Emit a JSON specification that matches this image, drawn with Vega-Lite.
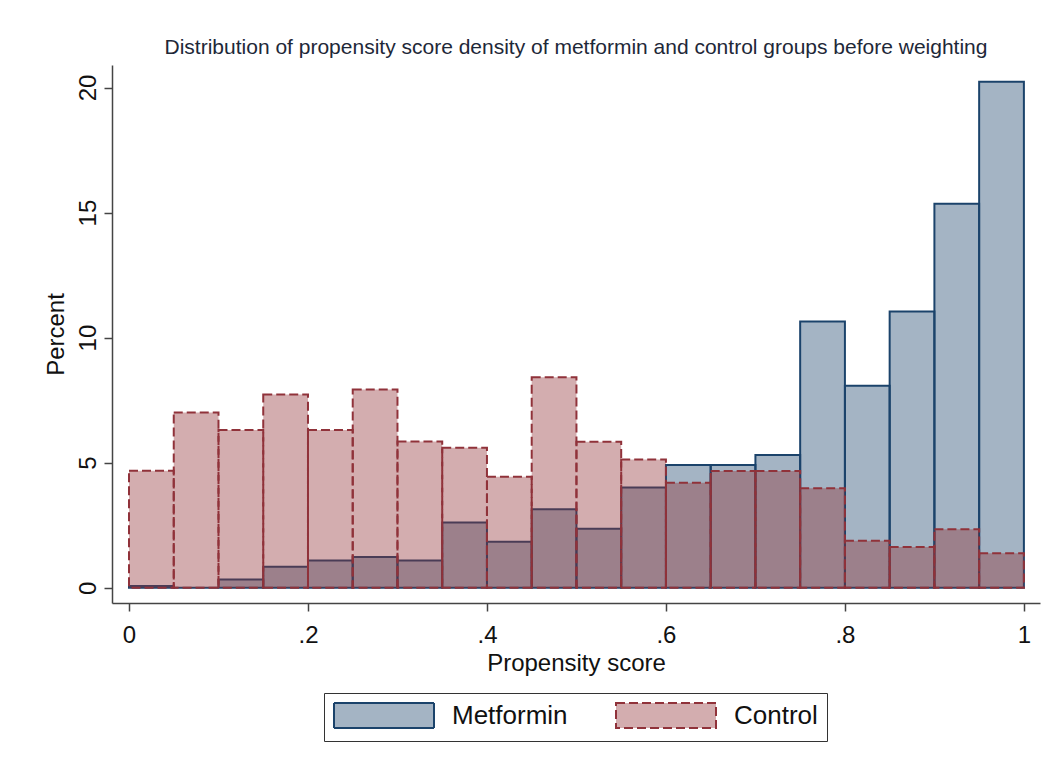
{
  "$schema": "https://vega.github.io/schema/vega-lite/v6.json",
  "width": 928,
  "height": 538,
  "autosize": {"type": "none"},
  "padding": {"left": 112, "top": 65, "right": 20, "bottom": 173},
  "background": "white",
  "config": {
    "view": {"stroke": null},
    "font": "Liberation Sans"
  },
  "title": {
    "text": "Distribution of propensity score density of metformin and control groups before weighting",
    "font": "Liberation Sans",
    "fontSize": 21,
    "fontWeight": "normal",
    "color": "#1e2838",
    "anchor": "middle",
    "offset": 7
  },
  "data": {
    "values": [
      {"start": 0.00, "end": 0.05, "group": "Metformin", "pct": 0.07},
      {"start": 0.05, "end": 0.10, "group": "Metformin", "pct": 0.0},
      {"start": 0.10, "end": 0.15, "group": "Metformin", "pct": 0.33},
      {"start": 0.15, "end": 0.20, "group": "Metformin", "pct": 0.84},
      {"start": 0.20, "end": 0.25, "group": "Metformin", "pct": 1.09},
      {"start": 0.25, "end": 0.30, "group": "Metformin", "pct": 1.23},
      {"start": 0.30, "end": 0.35, "group": "Metformin", "pct": 1.09},
      {"start": 0.35, "end": 0.40, "group": "Metformin", "pct": 2.61},
      {"start": 0.40, "end": 0.45, "group": "Metformin", "pct": 1.84},
      {"start": 0.45, "end": 0.50, "group": "Metformin", "pct": 3.14},
      {"start": 0.50, "end": 0.55, "group": "Metformin", "pct": 2.36},
      {"start": 0.55, "end": 0.60, "group": "Metformin", "pct": 4.01},
      {"start": 0.60, "end": 0.65, "group": "Metformin", "pct": 4.91},
      {"start": 0.65, "end": 0.70, "group": "Metformin", "pct": 4.91},
      {"start": 0.70, "end": 0.75, "group": "Metformin", "pct": 5.31},
      {"start": 0.75, "end": 0.80, "group": "Metformin", "pct": 10.64},
      {"start": 0.80, "end": 0.85, "group": "Metformin", "pct": 8.08},
      {"start": 0.85, "end": 0.90, "group": "Metformin", "pct": 11.04},
      {"start": 0.90, "end": 0.95, "group": "Metformin", "pct": 15.35},
      {"start": 0.95, "end": 1.00, "group": "Metformin", "pct": 20.23},
      {"start": 0.00, "end": 0.05, "group": "Control", "pct": 4.68},
      {"start": 0.05, "end": 0.10, "group": "Control", "pct": 7.01},
      {"start": 0.10, "end": 0.15, "group": "Control", "pct": 6.31},
      {"start": 0.15, "end": 0.20, "group": "Control", "pct": 7.73},
      {"start": 0.20, "end": 0.25, "group": "Control", "pct": 6.31},
      {"start": 0.25, "end": 0.30, "group": "Control", "pct": 7.93},
      {"start": 0.30, "end": 0.35, "group": "Control", "pct": 5.85},
      {"start": 0.35, "end": 0.40, "group": "Control", "pct": 5.6},
      {"start": 0.40, "end": 0.45, "group": "Control", "pct": 4.44},
      {"start": 0.45, "end": 0.50, "group": "Control", "pct": 8.42},
      {"start": 0.50, "end": 0.55, "group": "Control", "pct": 5.84},
      {"start": 0.55, "end": 0.60, "group": "Control", "pct": 5.13},
      {"start": 0.60, "end": 0.65, "group": "Control", "pct": 4.2},
      {"start": 0.65, "end": 0.70, "group": "Control", "pct": 4.67},
      {"start": 0.70, "end": 0.75, "group": "Control", "pct": 4.67},
      {"start": 0.75, "end": 0.80, "group": "Control", "pct": 3.98},
      {"start": 0.80, "end": 0.85, "group": "Control", "pct": 1.88},
      {"start": 0.85, "end": 0.90, "group": "Control", "pct": 1.63},
      {"start": 0.90, "end": 0.95, "group": "Control", "pct": 2.34},
      {"start": 0.95, "end": 1.00, "group": "Control", "pct": 1.38}
    ]
  },
  "mark": {"type": "bar", "strokeWidth": 2, "fillOpacity": 1},
  "encoding": {
    "x": {
      "field": "start",
      "type": "quantitative",
      "scale": {"domain": [-0.019, 1.018], "nice": false, "zero": false},
      "axis": {
        "title": "Propensity score",
        "values": [0, 0.2, 0.4, 0.6, 0.8, 1],
        "labelExpr": "datum.value == 0 ? '0' : datum.value == 1 ? '1' : replace(format(datum.value, '.1f'), '0.', '.')",
        "grid": false,
        "domainColor": "#444",
        "domainWidth": 1.5,
        "tickColor": "#444",
        "tickWidth": 1.5,
        "tickSize": 8,
        "labelFontSize": 24,
        "labelColor": "#111",
        "labelPadding": 12,
        "labelFlush": false,
        "titleFontSize": 24,
        "titleFontWeight": "normal",
        "titleColor": "#111",
        "titlePadding": 4
      }
    },
    "x2": {"field": "end"},
    "y": {
      "field": "pct",
      "type": "quantitative",
      "stack": null,
      "scale": {"domain": [-0.61, 20.9], "nice": false, "zero": false},
      "axis": {
        "title": "Percent",
        "values": [0, 5, 10, 15, 20],
        "grid": false,
        "domainColor": "#444",
        "domainWidth": 1.5,
        "tickColor": "#444",
        "tickWidth": 1.5,
        "tickSize": 8,
        "labelAngle": 270,
        "labelFontSize": 24,
        "labelColor": "#111",
        "labelPadding": 4,
        "labelFlush": false,
        "titleFontSize": 24,
        "titleFontWeight": "normal",
        "titleColor": "#111",
        "titlePadding": 8
      }
    },
    "y2": {"datum": 0},
    "fill": {
      "field": "group",
      "type": "nominal",
      "scale": {"domain": ["Metformin", "Control"], "range": ["rgba(27,67,107,0.4)", "rgba(145,50,55,0.4)"]},
      "legend": {
        "title": null,
        "orient": "none",
        "legendX": 212,
        "legendY": 628,
        "direction": "horizontal",
        "columns": 2,
        "symbolType": "M-1,-1H7V1H-1Z",
        "symbolSize": 625,
        "symbolStrokeWidth": 2,
        "labelFontSize": 26,
        "labelColor": "#111",
        "labelOffset": 92,
        "columnPadding": 44,
        "padding": 9,
        "strokeColor": "#333",
        "fillColor": "white"
      }
    },
    "stroke": {
      "field": "group",
      "type": "nominal",
      "scale": {"domain": ["Metformin", "Control"], "range": ["#1b436b", "#90323a"]}
    },
    "strokeDash": {
      "field": "group",
      "type": "nominal",
      "scale": {"domain": ["Metformin", "Control"], "range": [[1, 0], [9, 4]]}
    }
  }
}
